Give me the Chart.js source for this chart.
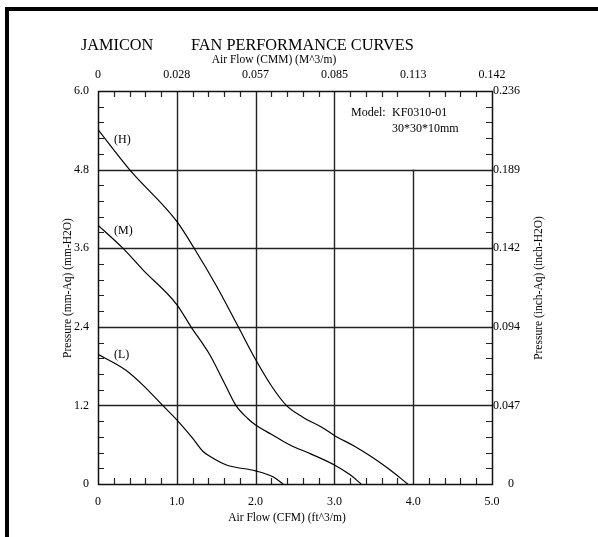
<!DOCTYPE html>
<html>
<head>
<meta charset="utf-8">
<script src="https://cdn.jsdelivr.net/npm/chart.js@4/dist/chart.umd.min.js"></script>
<style>
html,body{margin:0;padding:0;background:#fff;}
#wrap{width:598px;height:537px;position:relative;}
canvas{display:block;}
</style>
</head>
<body>
<div id="wrap"><canvas id="c" width="598" height="537"></canvas></div>
<script>
// ---- data ----
const cfmTicks = [0, 1, 2, 3, 4, 5];
const cfmLabels = ['0', '1.0', '2.0', '3.0', '4.0', '5.0'];
const cmmLabels = ['0', '0.028', '0.057', '0.085', '0.113', '0.142'];
const mmTicks = [0, 1.2, 2.4, 3.6, 4.8, 6.0];
const mmLabels = ['0', '1.2', '2.4', '3.6', '4.8', '6.0'];
const inchLabels = ['     0', '0.047', '0.094', '0.142', '0.189', '0.236'];

const hFlow = [0, 0.4, 1.0, 1.22, 1.5, 1.78, 2.0, 2.2, 2.39, 2.6, 2.85, 3.0, 3.25, 3.49, 3.7, 3.93];
const hPressure = [5.41, 4.8, 4.01, 3.6, 3.03, 2.4, 1.9, 1.5, 1.2, 1.02, 0.86, 0.74, 0.58, 0.4, 0.22, 0];
const mFlow = [0, 0.315, 0.57, 1.0, 1.18, 1.415, 1.6, 1.75, 1.9, 2.0, 2.2, 2.43, 2.7, 3.0, 3.2, 3.34];
const mPressure = [3.95, 3.6, 3.27, 2.74, 2.4, 1.98, 1.55, 1.2, 1.0, 0.9, 0.76, 0.6, 0.46, 0.29, 0.14, 0];
const lFlow = [0, 0.35, 0.57, 0.82, 1.0, 1.2, 1.33, 1.45, 1.63, 2.0, 2.22, 2.35];
const lPressure = [1.98, 1.74, 1.51, 1.2, 0.98, 0.70, 0.50, 0.40, 0.29, 0.2, 0.11, 0];

const seriesNames = ['(H)', '(M)', '(L)'];

function pts(xs, ys) { return xs.map((x, i) => ({ x: x, y: ys[i] })); }

const SERIF = "'Liberation Serif', 'Times New Roman', serif";

const decor = {
  id: 'decor',
  beforeDraw(chart) {
    const ctx = chart.ctx;
    ctx.save();
    ctx.fillStyle = '#fff';
    ctx.fillRect(0, 0, chart.width, chart.height);
    ctx.fillStyle = '#000';
    ctx.fillRect(5, 7, 593, 4);
    ctx.fillRect(5, 7, 4, 530);
    ctx.restore();
  },
  beforeDatasetsDraw(chart) {
    const ctx = chart.ctx;
    const xs = chart.scales.x, ys = chart.scales.y;
    const a = chart.chartArea;
    ctx.save();
    ctx.strokeStyle = '#222';
    ctx.lineWidth = 1.4;
    ctx.beginPath();
    [1, 2, 3].forEach(v => {
      const px = Math.round(xs.getPixelForValue(v)) + 0.5;
      ctx.moveTo(px, a.top); ctx.lineTo(px, a.bottom);
    });
    const p4 = Math.round(xs.getPixelForValue(4)) + 0.5;
    ctx.moveTo(p4, ys.getPixelForValue(4.8)); ctx.lineTo(p4, a.bottom);
    [1.2, 2.4, 3.6, 4.8].forEach(v => {
      const py = Math.round(ys.getPixelForValue(v)) + 0.5;
      ctx.moveTo(a.left, py); ctx.lineTo(a.right, py);
    });
    ctx.stroke();
    ctx.lineWidth = 1.2;
    ctx.beginPath();
    for (let i = 1; i < 25; i++) {
      if (i % 5 === 0) continue;
      const v = i * 0.2;
      const px = Math.round(xs.getPixelForValue(v)) + 0.5;
      ctx.moveTo(px, a.top); ctx.lineTo(px, a.top + 6);
      ctx.moveTo(px, a.bottom); ctx.lineTo(px, a.bottom - 6);
      const vy = i * 0.24;
      const py = Math.round(ys.getPixelForValue(vy)) + 0.5;
      ctx.moveTo(a.left, py); ctx.lineTo(a.left + 6, py);
      ctx.moveTo(a.right, py); ctx.lineTo(a.right - 6, py);
    }
    ctx.stroke();
    ctx.lineWidth = 1.5;
    ctx.strokeStyle = '#111';
    ctx.strokeRect(Math.round(a.left) + 0.5, Math.round(a.top) + 0.5, Math.round(a.right - a.left), Math.round(a.bottom - a.top));
    ctx.restore();
  },
  afterDraw(chart) {
    const ctx = chart.ctx;
    ctx.save();
    ctx.fillStyle = '#000';
    ctx.textBaseline = 'middle';
    ctx.textAlign = 'left';
    ctx.font = '16.3px ' + SERIF;
    ctx.fillText('JAMICON', 81, 46);
    ctx.fillText('FAN PERFORMANCE CURVES', 191, 46);
    ctx.font = '11.5px ' + SERIF;
    ctx.textAlign = 'center';
    ctx.fillText('Air Flow (CMM) (M^3/m)', 274, 60);
    ctx.fillText('Air Flow (CFM) (ft^3/m)', 287, 518);
    ctx.save();
    ctx.translate(68, 288);
    ctx.rotate(-Math.PI / 2);
    ctx.fillText('Pressure (mm-Aq) (mm-H2O)', 0, 0);
    ctx.restore();
    ctx.save();
    ctx.translate(539, 288);
    ctx.rotate(-Math.PI / 2);
    ctx.fillText('Pressure (inch-Aq) (inch-H2O)', 0, 0);
    ctx.restore();
    ctx.textAlign = 'left';
    ctx.font = '12px ' + SERIF;
    ctx.fillText('Model:', 351, 113);
    ctx.fillText('KF0310-01', 392, 113);
    ctx.fillText('30*30*10mm', 392, 129);
    const labelPy = [140, 231, 355];
    seriesNames.forEach((n, i) => ctx.fillText(n, 114, labelPy[i]));
    ctx.restore();
  }
};

const tickFont = { family: SERIF, size: 12 };
const noGrid = { display: false, drawTicks: false };

new Chart(document.getElementById('c'), {
  type: 'scatter',
  data: {
    datasets: [
      { label: seriesNames[0], data: pts(hFlow, hPressure) },
      { label: seriesNames[1], data: pts(mFlow, mPressure) },
      { label: seriesNames[2], data: pts(lFlow, lPressure) }
    ].map(d => Object.assign(d, {
      showLine: true, borderColor: '#000', borderWidth: 1.2, pointRadius: 0,
      cubicInterpolationMode: 'monotone', fill: false
    }))
  },
  options: {
    responsive: false,
    animation: false,
    layout: { padding: 0 },
    plugins: { legend: { display: false }, tooltip: { enabled: false }, title: { display: false } },
    scales: {
      x: {
        type: 'linear', position: 'bottom', min: 0, max: 5,
        afterBuildTicks: s => { s.ticks = cfmTicks.map(v => ({ value: v })); },
        afterFit: s => { s.height = 537 - 484; },
        ticks: { callback: (v, i) => cfmLabels[i], font: tickFont, color: '#000', padding: 11, maxRotation: 0, autoSkip: false },
        grid: noGrid, border: { display: false }
      },
      x2: {
        type: 'linear', position: 'top', min: 0, max: 5,
        afterBuildTicks: s => { s.ticks = cfmTicks.map(v => ({ value: v })); },
        afterFit: s => { s.height = 91; },
        ticks: { callback: (v, i) => cmmLabels[i], font: tickFont, color: '#000', padding: 9, maxRotation: 0, autoSkip: false },
        grid: noGrid, border: { display: false }
      },
      y: {
        type: 'linear', position: 'left', min: 0, max: 6,
        afterBuildTicks: s => { s.ticks = mmTicks.map(v => ({ value: v })); },
        afterFit: s => { s.width = 98; },
        ticks: { callback: (v, i) => mmLabels[i], font: tickFont, color: '#000', padding: 9, autoSkip: false },
        grid: noGrid, border: { display: false }
      },
      y2: {
        type: 'linear', position: 'right', min: 0, max: 6,
        afterBuildTicks: s => { s.ticks = mmTicks.map(v => ({ value: v })); },
        afterFit: s => { s.width = 598 - 492; },
        ticks: { callback: (v, i) => inchLabels[i], font: tickFont, color: '#000', padding: 1, autoSkip: false },
        grid: noGrid, border: { display: false }
      }
    }
  },
  plugins: [decor]
});
</script>
</body>
</html>
